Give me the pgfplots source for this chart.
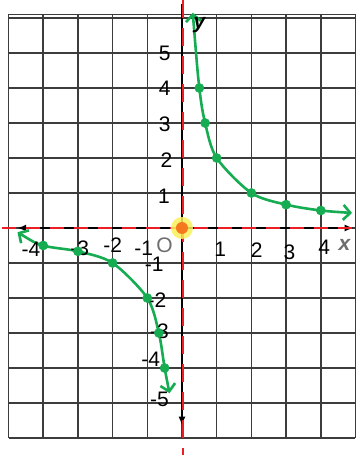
\documentclass[border=0pt]{standalone}
\usepackage{pgfplots}
\pgfplotsset{compat=1.18}
\usetikzlibrary{arrows.meta}
\usepackage{fontspec}
\setmainfont{Liberation Sans}
\definecolor{gridgray}{RGB}{60,60,60}
\definecolor{curvegreen}{RGB}{22,172,82}
\definecolor{dashred}{RGB}{235,30,35}
\definecolor{hilite}{RGB}{250,240,90}
\definecolor{origdot}{RGB}{245,120,30}
\definecolor{lblgray}{RGB}{110,110,110}

% branches of y = 2/x
\pgfplotstableread{
x y
0.31 6.15
0.5 4
0.6667 3
1 2
2 1
3 0.6667
4 0.5
4.9 0.43
}\rightbranch
\pgfplotstableread{
x y
-4.74 -0.12
-4 -0.5
-3 -0.6667
-2 -1
-1 -2
-0.6667 -3
-0.5 -4
-0.36 -4.72
}\leftbranch
\pgfplotstableread{
x y
0.5 4
0.6667 3
1 2
2 1
3 0.6667
4 0.5
-4 -0.5
-3 -0.6667
-2 -1
-1 -2
-0.6667 -3
-0.5 -4
}\points

\begin{document}
\begin{tikzpicture}
\begin{axis}[
  scale only axis, width=360pt, height=455pt,
  xmin=-5.245, xmax=5.13, ymin=-6.486, ymax=6.514,
  axis lines=none,
  ticks=none,
]
\path[fill=white] (rel axis cs:0,0) rectangle (rel axis cs:1,1);
% graph paper
\pgfplotsinvokeforeach{-5,...,5}{
  \draw[gridgray, line width=1.5pt] (axis cs:#1,-6) -- (axis cs:#1,6.1);
}
\pgfplotsinvokeforeach{-6,...,6}{
  \draw[gridgray, line width=1.5pt] (axis cs:-5,#1) -- (axis cs:5,#1);
}
\draw[gridgray, line width=1.5pt] (axis cs:-5,6.1) -- (axis cs:5,6.1);
% coordinate axes
\draw[black, line width=1.8pt, {Latex[length=9pt,width=7pt]}-{Latex[length=9pt,width=7pt]}]
  (axis cs:-4.75,0) -- (axis cs:4.95,0);
\draw[black, line width=1.8pt, -{Latex[length=9pt,width=7pt]}]
  (axis cs:0,6.4) -- (axis cs:0,-5.65);
% asymptotes
\draw[dashred, line width=2.8pt, dash pattern=on 14pt off 10pt]
  (axis cs:-5.2,0) -- (axis cs:5.13,0);
\draw[dashred, line width=2.8pt, dash pattern=on 18pt off 10pt]
  (axis cs:0.03,6.5) -- (axis cs:0.03,-6.5);
% origin
\fill[hilite, opacity=0.85] (axis cs:0,0) circle[radius=11pt];
\fill[origdot] (axis cs:0,0) circle[radius=6pt];
% curve
\addplot[curvegreen, line width=2.6pt, smooth, tension=0.5,
  {Straight Barb[length=7pt,width=15pt]}-{Straight Barb[length=7pt,width=15pt]}]
  table[x=x,y=y] {\rightbranch};
\addplot[curvegreen, line width=2.6pt, smooth, tension=0.5,
  {Straight Barb[length=7pt,width=15pt]}-{Straight Barb[length=7pt,width=15pt]}]
  table[x=x,y=y] {\leftbranch};
\addplot[only marks, mark=*, mark size=4.6pt, curvegreen] table[x=x,y=y] {\points};
% tick labels
\begin{scope}[every node/.style={font=\fontsize{21}{21}\selectfont, inner sep=0pt}]
\node at (axis cs:-0.5,5.0) {5};
\node at (axis cs:-0.5,4.0) {4};
\node at (axis cs:-0.5,2.95) {3};
\node at (axis cs:-0.45,1.95) {2};
\node at (axis cs:-0.52,0.9) {1};
\node at (axis cs:-0.8,-1.05) {-1};
\node at (axis cs:-0.72,-2.05) {-2};
\node at (axis cs:-0.65,-2.95) {-3};
\node at (axis cs:-0.9,-3.75) {-4};
\node at (axis cs:-0.65,-4.9) {-5};
\node at (axis cs:1.1,-0.62) {1};
\node at (axis cs:2.15,-0.62) {2};
\node at (axis cs:3.1,-0.68) {3};
\node at (axis cs:4.1,-0.55) {4};
\node at (axis cs:-4.35,-0.62) {-4};
\node at (axis cs:-2.95,-0.58) {-3};
\node at (axis cs:-2.0,-0.5) {-2};
\node at (axis cs:-1.1,-0.58) {-1};
\node[lblgray] at (axis cs:-0.5,-0.5) {O};
\node[lblgray, font=\fontsize{21}{21}\itshape\bfseries] at (axis cs:4.68,-0.48) {x};
\node[black, font=\fontsize{21}{21}\itshape\bfseries] at (axis cs:0.5,5.8) {y};
\end{scope}
\end{axis}
\end{tikzpicture}
\end{document}
